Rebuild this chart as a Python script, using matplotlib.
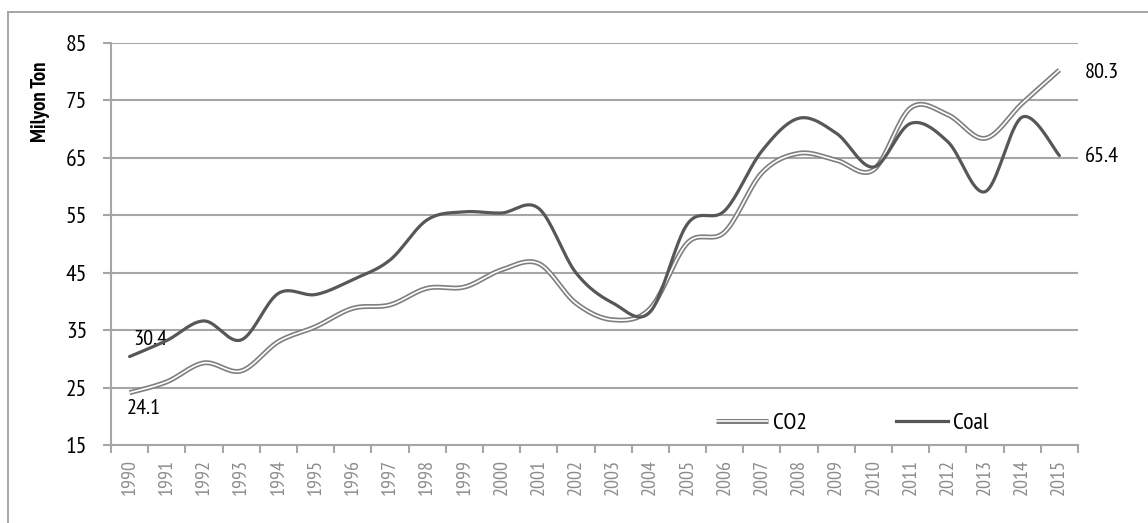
import numpy as np
import matplotlib
matplotlib.use("Agg")
import matplotlib.pyplot as plt
from matplotlib.lines import Line2D

years = [str(y) for y in range(1990, 2016)]
co2 = [24.1, 26.0, 29.3, 27.9, 33.0, 35.6, 38.8, 39.4, 42.3, 42.5, 45.5, 46.6, 39.7,
       36.8, 38.8, 50.2, 52.1, 62.4, 65.8, 64.6, 62.9, 73.7, 72.5, 68.4, 74.5, 80.3]
coal = [30.4, 33.2, 36.6, 33.3, 41.4, 41.2, 43.8, 47.2, 54.2, 55.6, 55.4, 56.2, 45.0,
        39.7, 38.2, 53.5, 55.8, 66.2, 71.9, 69.3, 63.4, 71.0, 67.8, 59.1, 72.1, 65.4]
yticks = [15, 25, 35, 45, 55, 65, 75, 85]

plt.rcParams['font.family'] = ['PT Sans Narrow', 'DejaVu Sans']

W, H = 1148, 523


def smooth(y, n=20):
    # Bezier smoothing (like a spreadsheet "smoothed line"), only for drawing
    y = np.asarray(y, float)
    x = np.arange(len(y), dtype=float)
    P = np.vstack([x, y]).T
    P = np.vstack([P[0], P, P[-1]])
    out = []
    t = np.linspace(0, 1, n, endpoint=False)
    for i in range(1, len(P) - 2):
        p0, p1, p2, p3 = P[i - 1], P[i], P[i + 1], P[i + 2]
        c1 = p1 + (p2 - p0) / 6
        c2 = p2 - (p3 - p1) / 6
        for tt in t:
            b = ((1 - tt) ** 3) * p1 + 3 * ((1 - tt) ** 2) * tt * c1 + 3 * (1 - tt) * tt ** 2 * c2 + tt ** 3 * p2
            out.append(b)
    out.append(P[-2])
    out = np.array(out)
    return out[:, 0], out[:, 1]


fig = plt.figure(figsize=(W / 100, H / 100), dpi=100)
# outer frame (top and left edges only visible)
fig.add_artist(Line2D([8 / W, 1.0], [1 - 12 / H, 1 - 12 / H], transform=fig.transFigure,
                      color='#a6a6a6', linewidth=1.4))
fig.add_artist(Line2D([8 / W, 8 / W], [0, 1 - 12 / H], transform=fig.transFigure,
                      color='#a6a6a6', linewidth=1.4))

ax = fig.add_axes([111 / W, 1 - 445 / H, (1078 - 111) / W, (445 - 43) / H])

x = np.arange(len(years))
ax.set_xlim(-0.5, len(years) - 0.5)
ax.set_ylim(15, 85)
ax.set_yticks(yticks)
ax.set_yticklabels([str(v) for v in yticks], fontsize=17, color='black')
for v in yticks[1:]:
    ax.axhline(v, color='#a6a6a6', linewidth=1.5, zorder=1)

xs, ys = smooth(co2)
ax.plot(xs, ys, color='#7f7f7f', linewidth=3.6, solid_capstyle='butt', zorder=3)
ax.plot(xs, ys, color='white', linewidth=1.2, solid_capstyle='butt', zorder=4)
xs, ys = smooth(coal)
ax.plot(xs, ys, color='#575757', linewidth=2.3, solid_capstyle='round', zorder=5)

ax.set_xticks(np.arange(-0.5, len(years), 1.0))
ax.set_xticklabels([])
ax.set_xticks(x, minor=True)
ax.set_xticklabels(years, minor=True, rotation=90, fontsize=14.5, color='#8c8c8c')
ax.tick_params(axis='x', which='minor', length=0, pad=10)
ax.tick_params(axis='x', which='major', length=6, color='#a6a6a6', width=1.5)
ax.tick_params(axis='y', length=6, color='#a6a6a6', width=1.5, pad=11)
for s in ['top', 'right']:
    ax.spines[s].set_visible(False)
for s in ['left', 'bottom']:
    ax.spines[s].set_color('#a6a6a6')
    ax.spines[s].set_linewidth(1.5)

fig.text(40 / W, 1 - 102 / H, 'Milyon Ton', rotation=90, fontsize=15, fontweight='bold',
         ha='center', va='center')

ax.annotate(f'{coal[0]}', (x[0], coal[0]), xytext=(2.5, 12), textcoords='offset points',
            fontsize=16, ha='left', va='center')
ax.annotate(f'{co2[0]}', (x[0], co2[0]), xytext=(-2, -11), textcoords='offset points',
            fontsize=16, ha='left', va='center')
ax.annotate(f'{co2[-1]}', (x[-1], co2[-1]), xytext=(18, -1.5), textcoords='offset points',
            fontsize=16, ha='left', va='center')
ax.annotate(f'{coal[-1]}', (x[-1], coal[-1]), xytext=(18, -1), textcoords='offset points',
            fontsize=16, ha='left', va='center')

h1 = (Line2D([], [], color='#7f7f7f', linewidth=3.6, solid_capstyle='butt'),
      Line2D([], [], color='white', linewidth=1.2, solid_capstyle='butt'))
h2 = Line2D([], [], color='#575757', linewidth=2.3)
leg = fig.legend([h1, h2], ['CO2', 'Coal'], ncol=2, frameon=False, fontsize=17,
                 loc='center left', bbox_to_anchor=(716 / W, 1 - 423 / H), handlelength=2.2,
                 handletextpad=0.2, columnspacing=3.8, borderpad=0, borderaxespad=0)

fig.savefig('out.png', dpi=100)
